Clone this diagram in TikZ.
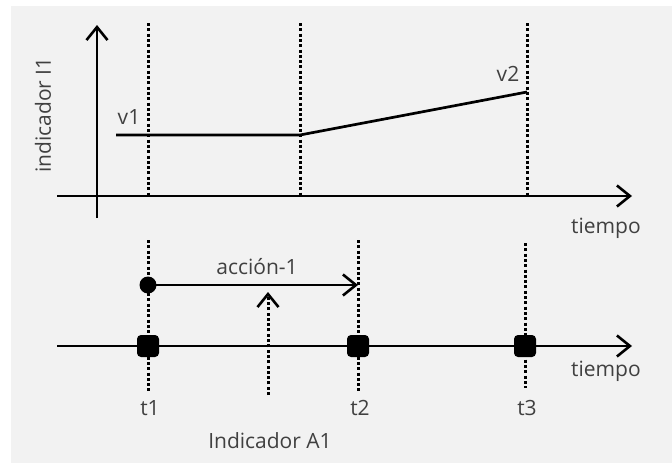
\documentclass[tikz,border=0pt]{standalone}
\usepackage{fontspec}
\setmainfont{Open Sans}
\usetikzlibrary{arrows.meta, positioning}
\definecolor{cBack}{RGB}{242,242,242}
\definecolor{cText}{RGB}{64,64,64}
\tikzset{
	axis/.style   ={-{Straight Barb[length=13pt, width=21pt, line width=2.6pt]}, line width=2.7pt},
	guide/.style  ={line width=3pt, dash pattern=on 3pt off 2.3pt},
	tickbox/.style={rectangle, rounded corners=4pt, fill=black, minimum size=22pt, inner sep=0pt},
	startdot/.style={circle, fill=black, minimum size=17pt, inner sep=0pt},
	lbl/.style    ={text=cText, font=\fontsize{21}{25}\selectfont, inner sep=1pt},
}
\begin{document}
\begin{tikzpicture}[x=1pt, y=-1pt]
	\useasboundingbox (0,0) rectangle (672,463);
	\fill[cBack] (11,6) rectangle (672,463);
	% upper graph
	\coordinate (yb) at (97,218);
	\coordinate (yt) at (97,25);
	\coordinate (xa) at (57,196);
	\coordinate (xb) at (632,196);
	\draw[guide] (148,23) -- (148,196);
	\draw[guide] (300,23) -- (300,196);
	\draw[guide] (527,23) -- (527,196);
	\draw[axis] (yb) -- (yt);
	\draw[axis] (xa) -- (xb);
	\coordinate (p1) at (116,135);
	\coordinate (p2) at (300,135);
	\coordinate (p3) at (527,92);
	\draw[line width=2.7pt] (p1) -- (p2) -- (p3);
	\node[lbl] (v1) at (129,117) {v1};
	\node[lbl] (v2) at (508,74) {v2};
	\node[lbl] (tup) at (606,228) {tiempo};
	\node[lbl, rotate=90] (ind1) at (43,115) {indicador I1};
	% lower graph
	\coordinate (za) at (57,346);
	\coordinate (zb) at (632,346);
	\draw[guide] (148,240) -- (148,392);
	\draw[guide] (358,240) -- (358,392);
	\draw[guide] (525,243) -- (525,388);
	\draw[axis] (za) -- (zb);
	\node[tickbox] (m1) at (148,346) {};
	\node[tickbox] (m2) at (358,346) {};
	\node[tickbox] (m3) at (525,346) {};
	\node[startdot] (d1) at (148,285) {};
	\coordinate (e1) at (358,285);
	\draw[axis] (d1.center) -- (e1);
	\node[lbl] (act) at (257,267) {acción-1};
	\coordinate (ia) at (268,395);
	\coordinate (ib) at (268,292);
	\draw[guide, -{Straight Barb[length=13pt, width=21pt, line width=2.6pt]}] (ia) -- (ib);
	\node[lbl] (t1) at (150,408) {t1};
	\node[lbl] (t2) at (360,408) {t2};
	\node[lbl] (t3) at (527,408) {t3};
	\node[lbl] (tdn) at (606,371) {tiempo};
	\node[lbl] (indA) at (270,441) {Indicador A1};
\end{tikzpicture}
\end{document}
